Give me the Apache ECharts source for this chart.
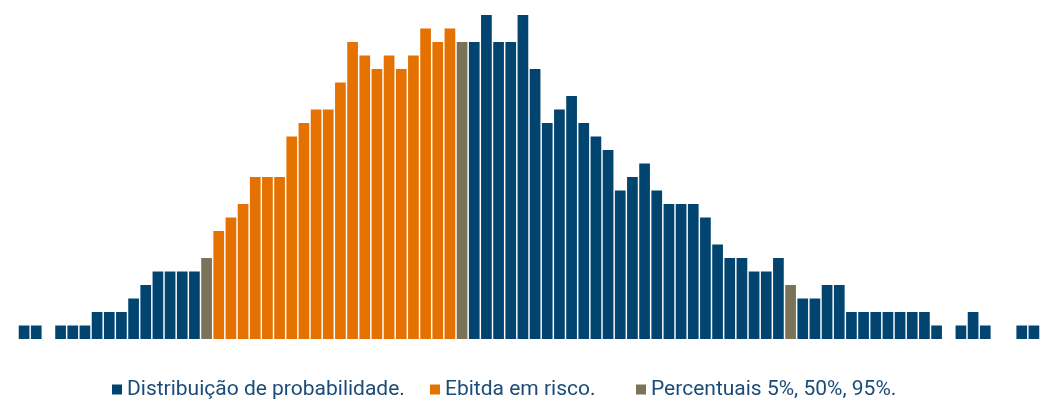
<!DOCTYPE html>
<html>
<head>
<meta charset="utf-8">
<script src="https://cdn.jsdelivr.net/npm/echarts@6/dist/echarts.min.js"></script>
<style>
html,body{margin:0;padding:0;background:#fff;}
#chart{width:1040px;height:401px;}
</style>
</head>
<body>
<div id="chart"></div>
<script>
// Histogram counts per bin (84 bins)
var counts = [1,1,0,1,1,1,2,2,2,3,4,5,5,5,5,6,8,9,10,12,12,12,15,16,17,17,19,22,21,20,21,20,21,23,22,23,22,22,24,22,22,24,20,16,17,18,16,15,14,11,12,13,11,10,10,10,9,7,6,6,5,5,6,4,3,3,4,4,2,2,2,2,2,2,2,1,0,1,2,1,0,0,1,1];
// Bin indices of the 5%, 50%, 95% percentiles
var percentileBins = [15, 36, 63];
// Range of bins forming the "Ebitda em risco" (between 5% and 50%)
var riskFrom = 16, riskTo = 35;
var seriesNames = ['Distribuição de probabilidade.', 'Ebitda em risco.', 'Percentuais 5%, 50%, 95%.'];
var colors = ['#00446f', '#e57200', '#7b7357'];

var categories = counts.map(function(_, i){ return 'B' + (i + 1); });
var distData = [], riskData = [], pctData = [];
counts.forEach(function(v, i){
  var isPct = percentileBins.indexOf(i) >= 0;
  var isRisk = !isPct && i >= riskFrom && i <= riskTo;
  pctData.push(isPct ? v : '-');
  riskData.push(isRisk ? v : '-');
  distData.push(!isPct && !isRisk ? (v || '-') : '-');
});

var chart = echarts.init(document.getElementById('chart'), null, {renderer: 'canvas'});
var textStyle = {fontFamily: 'Roboto', fontSize: 21, color: '#1b4b78'};
function legend(i, left){
  return {
    data: [seriesNames[i]], left: left, top: 379, icon: 'rect',
    itemWidth: 10, itemHeight: 10, itemGap: 0, textStyle: textStyle,
    selectedMode: false, padding: 0
  };
}
chart.setOption({
  animation: false,
  grid: {left: 18, top: 15, width: 84 * 12.217, bottom: 62, containLabel: false},
  legend: [legend(0, 112), legend(1, 430), legend(2, 636)],
  xAxis: {type: 'category', data: categories, show: false},
  yAxis: {type: 'value', min: 0, max: 24, show: false},
  series: [
    {name: seriesNames[0], type: 'bar', stack: 's', data: distData, itemStyle: {color: colors[0]}, barCategoryGap: '12%'},
    {name: seriesNames[1], type: 'bar', stack: 's', data: riskData, itemStyle: {color: colors[1]}, barCategoryGap: '12%'},
    {name: seriesNames[2], type: 'bar', stack: 's', data: pctData, itemStyle: {color: colors[2]}, barCategoryGap: '12%'}
  ]
});
</script>
</body>
</html>
